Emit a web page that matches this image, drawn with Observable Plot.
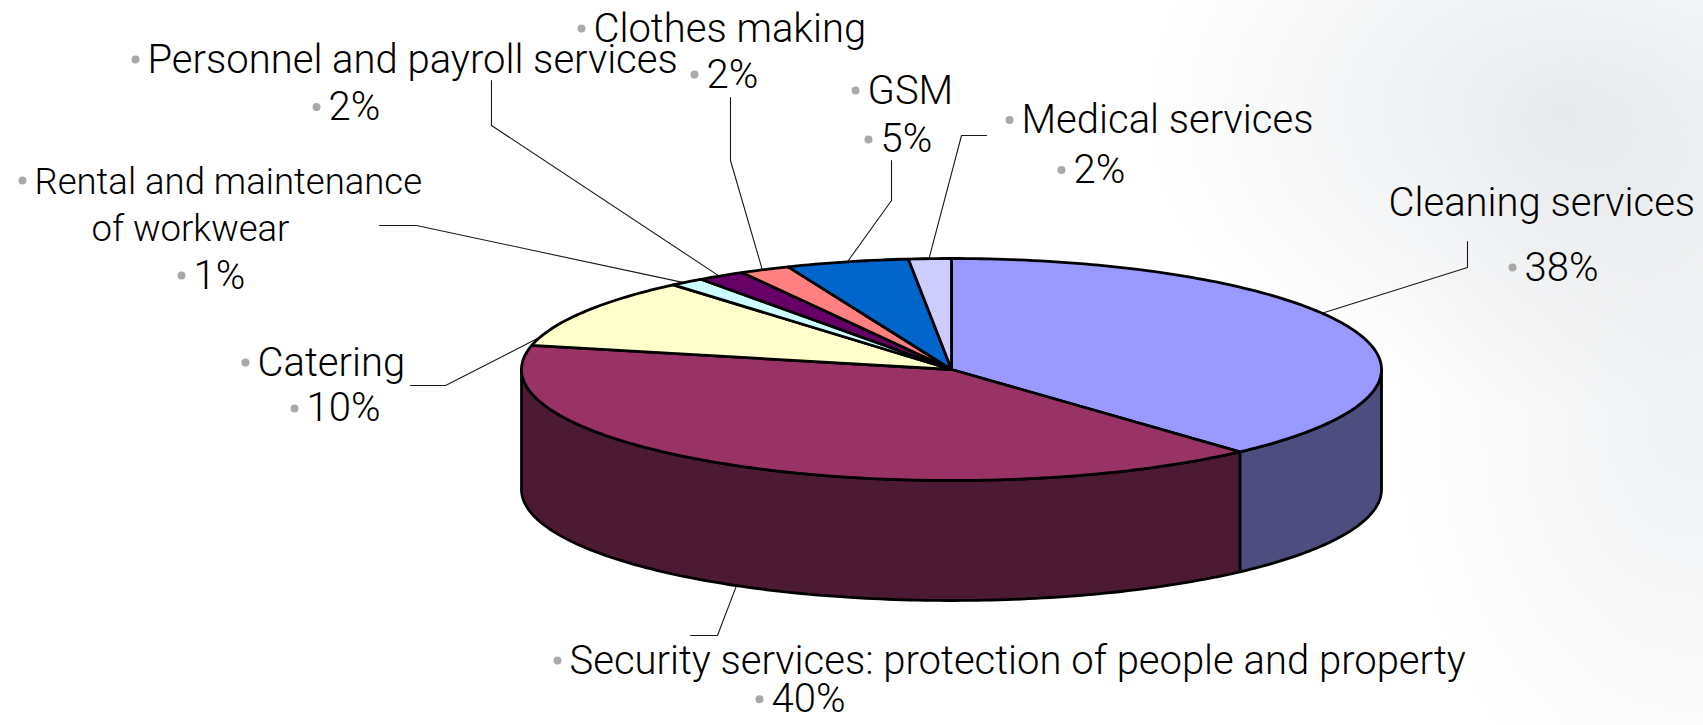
<!DOCTYPE html>
<html>
<head>
<meta charset="utf-8">
<script src="https://cdn.jsdelivr.net/npm/d3@7"></script>
<script src="https://cdn.jsdelivr.net/npm/@observablehq/plot@0.6"></script>
<style>
  html, body { margin: 0; padding: 0; }
  body {
    width: 1703px; height: 725px; overflow: hidden;
    background:
      radial-gradient(ellipse 420px 300px at 1560px 110px, rgba(196,202,208,0.38), rgba(255,255,255,0) 100%),
      radial-gradient(ellipse 300px 420px at 1690px 420px, rgba(205,210,215,0.30), rgba(255,255,255,0) 100%),
      #ffffff;
  }
  #chart svg { display: block; }
</style>
</head>
<body>
<div id="chart"></div>
<script>
// ---------- data ----------
const categories = [
  "Cleaning services",
  "Security services: protection of people and property",
  "Catering",
  "Rental and maintenance\nof workwear",
  "Personnel and payroll services",
  "Clothes making",
  "GSM",
  "Medical services"
];
const shares = [38.3, 40.2, 10.3, 1.3, 1.8, 1.9, 4.6, 1.6];
const percentLabels = ["38%", "40%", "10%", "1%", "2%", "2%", "5%", "2%"];
const topColors = ["#9999FF", "#993366", "#FFFFCC", "#CCFFFF", "#660066", "#FF8080", "#0066CC", "#CCCCFF"];

// ---------- layout (pie units: radius 1 horizontally) ----------
const TILT = 111 / 430;   // vertical squash of the top face
const DEPTH = 120 / 430;  // thickness of the pie
const FONT = 40;

// leader lines: anchor angle on the slice edge, then points toward the label
const leaderLayout = [
  {slice: 0, angle: 59.5, face: "top",    pts: [[1.2, 0.2372], [1.2, 0.2977]]},
  {slice: 1, angle: 210,  face: "bottom", pts: [[-0.5442, -0.6186], [-0.607, -0.6186]]},
  {slice: 2, angle: 287,  face: "top",    pts: [[-1.1767, -0.0372], [-1.2581, -0.0372]]},
  {slice: 3, angle: 321.5,face: "top",    pts: [[-1.2442, 0.3349], [-1.3302, 0.3349]]},
  {slice: 4, angle: 327.3,face: "top",    pts: [[-1.0698, 0.5674], [-1.0698, 0.6721]]},
  {slice: 5, angle: 333.9,face: "top",    pts: [[-0.514, 0.486], [-0.514, 0.6326]]},
  {slice: 6, angle: 346,  face: "top",    pts: [[-0.1395, 0.393], [-0.1395, 0.486]]},
  {slice: 7, angle: 357,  face: "top",    pts: [[0.0233, 0.5442], [0.0814, 0.5442]]}
];

// label lines: which slice, which text part, left x / baseline y, bullet, size
const labelLayout = [
  {slice: 0, part: "name", line: 0, x: 1.0163,  y: 0.3581,  bullet: false, size: FONT},
  {slice: 0, part: "pct",  line: 0, x: 1.3326,  y: 0.2070,  bullet: true,  size: FONT},
  {slice: 1, part: "name", line: 0, x: -0.8884, y: -0.7070, bullet: true,  size: FONT},
  {slice: 1, part: "pct",  line: 0, x: -0.4186, y: -0.7970, bullet: true,  size: FONT},
  {slice: 2, part: "name", line: 0, x: -1.6140, y: -0.0140, bullet: true,  size: FONT},
  {slice: 2, part: "pct",  line: 0, x: -1.5000, y: -0.1209, bullet: true,  size: FONT},
  {slice: 3, part: "name", line: 0, x: -2.1326, y: 0.4093,  bullet: true,  size: 36.5},
  {slice: 3, part: "name", line: 1, x: -2.0000, y: 0.2977,  bullet: false, size: 36.5},
  {slice: 3, part: "pct",  line: 0, x: -1.7628, y: 0.1884,  bullet: true,  size: FONT},
  {slice: 4, part: "name", line: 0, x: -1.8698, y: 0.6907,  bullet: true,  size: FONT},
  {slice: 4, part: "pct",  line: 0, x: -1.4488, y: 0.5802,  bullet: true,  size: FONT},
  {slice: 5, part: "name", line: 0, x: -0.8326, y: 0.7628,  bullet: true,  size: FONT},
  {slice: 5, part: "pct",  line: 0, x: -0.5698, y: 0.6558,  bullet: true,  size: FONT},
  {slice: 6, part: "name", line: 0, x: -0.1953, y: 0.6186,  bullet: true,  size: FONT},
  {slice: 6, part: "pct",  line: 0, x: -0.1651, y: 0.5047,  bullet: true,  size: FONT},
  {slice: 7, part: "name", line: 0, x: 0.1628,  y: 0.5500,  bullet: true,  size: FONT},
  {slice: 7, part: "pct",  line: 0, x: 0.2837,  y: 0.4337,  bullet: true,  size: FONT}
];

// ---------- geometry ----------
const total = d3.sum(shares);
const ends = d3.cumsum(shares).map(v => v / total * 360);
const slices = shares.map((v, i) => ({
  i, a0: i === 0 ? 0 : ends[i - 1], a1: ends[i],
  top: topColors[i],
  side: (() => { const c = d3.rgb(topColors[i]); return d3.rgb(c.r / 2, c.g / 2, c.b / 2).formatHex(); })()
}));

function pt(theta, bottom) {
  const r = theta * Math.PI / 180;
  return {x: Math.sin(r), y: TILT * Math.cos(r) - (bottom ? DEPTH : 0)};
}
function arc(a, b, bottom) {
  const n = Math.max(2, Math.ceil(Math.abs(b - a)));
  return d3.range(n + 1).map(k => pt(a + (b - a) * k / n, bottom));
}

const sideMarks = [];
const topMarks = [];
for (const s of slices) {
  const a = Math.max(s.a0, 90), b = Math.min(s.a1, 270);
  if (b > a) {
    const poly = [...arc(a, b, false), ...arc(b, a, true)];
    sideMarks.push(Plot.line(poly, {x: "x", y: "y", curve: "linear-closed",
      fill: s.side, stroke: "#000", strokeWidth: 2.8, strokeLinejoin: "round"}));
  }
  const poly = [{x: 0, y: 0}, ...arc(s.a0, s.a1, false)];
  topMarks.push(Plot.line(poly, {x: "x", y: "y", curve: "linear-closed",
    fill: s.top, stroke: "#000", strokeWidth: 2.8, strokeLinejoin: "round"}));
}

const leaderMarks = leaderLayout.map(L => {
  const p0 = pt(L.angle, L.face === "bottom");
  const pts = [p0, ...L.pts.map(([x, y]) => ({x, y}))];
  return Plot.line(pts, {x: "x", y: "y", stroke: "#1a1a1a", strokeWidth: 1.1, strokeLinejoin: "miter"});
});

const textRows = labelLayout.map(d => ({
  ...d,
  text: d.part === "pct" ? percentLabels[d.slice] : categories[d.slice].split("\n")[d.line]
}));
const sizes = [...new Set(textRows.map(d => d.size))];

const chart = Plot.plot({
  width: 1703,
  height: 725,
  margin: 0,
  x: {domain: [-951 / 430, 752 / 430], axis: null},
  y: {domain: [-356 / 430, 369 / 430], axis: null},
  style: {background: "transparent", fontFamily: "Roboto, 'Liberation Sans', Arial, sans-serif"},
  marks: [
    ...leaderMarks,
    ...sideMarks,
    ...topMarks,
    Plot.dot(textRows.filter(d => d.bullet), {x: "x", y: "y", r: 4, fill: "#a9a9a9", stroke: null, dx: -12, dy: -13}),
    ...sizes.map(sz => Plot.text(textRows.filter(d => d.size === sz), {
      x: "x", y: "y", text: "text", textAnchor: "start",
      fontSize: sz, fontWeight: 300, fill: "#000", dy: -0.32 * sz
    }))
  ]
});
document.getElementById("chart").appendChild(chart);
</script>
</body>
</html>
